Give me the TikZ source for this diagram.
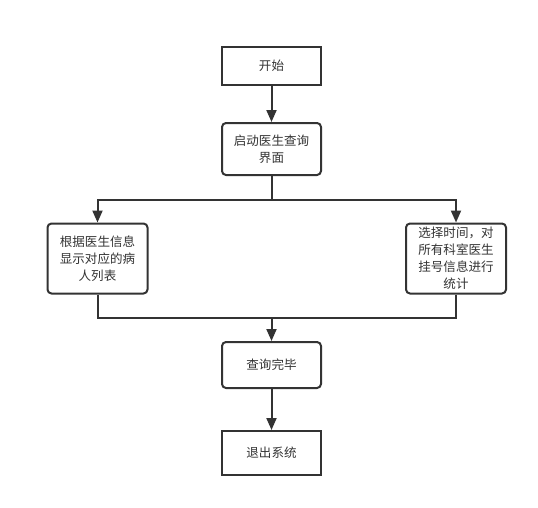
\documentclass[tikz,border=0pt]{standalone}
\usepackage{fontspec}
\setmainfont{Noto Sans CJK SC}
\usetikzlibrary{arrows.meta}
\definecolor{ln}{HTML}{333333}
\tikzset{
  px/.style={x=0.75pt,y=-0.75pt},
  box/.style={draw=ln,line width=1.5pt,fill=white,minimum width=99*0.75pt,inner sep=0pt,align=center,font=\fontsize{9.4pt}{12.8pt}\selectfont,text=ln},
  rbox/.style={box,rounded corners=3pt},
  conn/.style={draw=ln,line width=1.5pt},
  arr/.style={conn,-{Triangle[length=9pt,width=7.5pt]}}
}
\begin{document}
\begin{tikzpicture}[px]
\useasboundingbox (0,0) rectangle (538,507);
\node[box,minimum height=38*0.75pt] (start) at (271.5,66) {开始};
\node[rbox,minimum height=52*0.75pt] (launch) at (271.5,149) {启动医生查询\\界面};
\node[rbox,minimum width=100*0.75pt,minimum height=70*0.75pt] (left) at (97.5,258.5) {根据医生信息\\显示对应的病\\人列表};
\node[rbox,minimum width=100*0.75pt,minimum height=70*0.75pt] (right) at (456,258.5) {选择时间，对\\所有科室医生\\挂号信息进行\\统计};
\node[rbox,minimum height=46*0.75pt] (done) at (271.5,365) {查询完毕};
\node[box,minimum height=44*0.75pt] (quit) at (271.5,453) {退出系统};
\coordinate (split) at (271.5,199.5);
\coordinate (merge) at (271.5,318);
\draw[arr] (start) -- (launch);
\draw[conn] (launch) -- (split);
\draw[arr] (split) -| (left);
\draw[arr] (split) -| (right);
\draw[conn] (left.south) |- (merge);
\draw[conn] (right.south) |- (merge);
\draw[arr] (merge) -- (done);
\draw[arr] (done) -- (quit);
\end{tikzpicture}
\end{document}
